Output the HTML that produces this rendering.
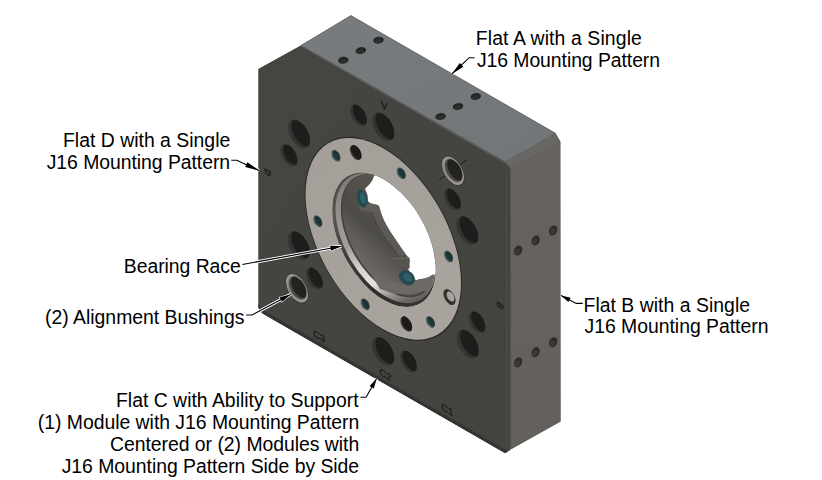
<!DOCTYPE html><html><head><meta charset="utf-8"><style>
html,body{margin:0;padding:0;background:#fff;width:822px;height:480px;overflow:hidden}
svg{display:block}
text{font-family:"Liberation Sans",sans-serif;font-size:19.4px;fill:#000}
</style></head><body>
<svg width="822" height="480" viewBox="0 0 822 480">
<defs>
<linearGradient id="gTop" x1="0" y1="0" x2="1" y2="1"><stop offset="0" stop-color="#797c7e"/><stop offset="1" stop-color="#737678"/></linearGradient>
<linearGradient id="gRight" x1="0" y1="0" x2="0" y2="1"><stop offset="0" stop-color="#66635e"/><stop offset="1" stop-color="#64615c"/></linearGradient>
<linearGradient id="gFront" x1="0" y1="0" x2="1" y2="1"><stop offset="0" stop-color="#454641"/><stop offset="1" stop-color="#434440"/></linearGradient>
<linearGradient id="gRing" x1="0" y1="0" x2="1" y2="1"><stop offset="0" stop-color="#a39f98"/><stop offset="1" stop-color="#aaa69f"/></linearGradient>
<linearGradient id="gRace" x1="0.05" y1="0.2" x2="0.75" y2="1"><stop offset="0" stop-color="#7a7772"/><stop offset="0.18" stop-color="#928f89"/><stop offset="0.45" stop-color="#a5a29c"/><stop offset="0.6" stop-color="#d5d2cc"/><stop offset="0.74" stop-color="#e6e3de"/><stop offset="0.84" stop-color="#a09d98"/><stop offset="0.93" stop-color="#6a6763"/><stop offset="1" stop-color="#5a5753"/></linearGradient>
<linearGradient id="gLipDark" x1="0.05" y1="0.2" x2="0.75" y2="1"><stop offset="0" stop-color="#4a4844"/><stop offset="0.2" stop-color="#5a5753"/><stop offset="0.5" stop-color="#403e3b"/><stop offset="0.8" stop-color="#2e2c2a"/><stop offset="1" stop-color="#3a3835"/></linearGradient>
<linearGradient id="gWall" x1="0.7" y1="0" x2="0.4" y2="1"><stop offset="0" stop-color="#5c5955"/><stop offset="0.3" stop-color="#55524e"/><stop offset="0.6" stop-color="#4d4b47"/><stop offset="0.8" stop-color="#605d59"/><stop offset="1" stop-color="#6e6b67"/></linearGradient>
<linearGradient id="gBush" x1="0" y1="0" x2="1" y2="1"><stop offset="0" stop-color="#a3a09a"/><stop offset="0.5" stop-color="#8a8781"/><stop offset="1" stop-color="#a8a59f"/></linearGradient>

<clipPath id="hc0"><circle cx="16.40" cy="30.78" r="4.40"/></clipPath>
<clipPath id="hc1"><circle cx="50.12" cy="11.84" r="4.40"/></clipPath>
<clipPath id="hc2"><circle cx="16.30" cy="69.16" r="4.40"/></clipPath>
<clipPath id="hc3"><circle cx="83.68" cy="30.96" r="4.40"/></clipPath>
<clipPath id="hc4"><circle cx="50.04" cy="88.94" r="4.40"/></clipPath>
<clipPath id="hc5"><circle cx="83.88" cy="69.84" r="4.40"/></clipPath>
<clipPath id="hc6"><circle cx="12.40" cy="40.06" r="3.35"/></clipPath>
<clipPath id="hc7"><circle cx="40.20" cy="12.72" r="3.35"/></clipPath>
<clipPath id="hc8"><circle cx="22.56" cy="77.35" r="3.35"/></clipPath>
<clipPath id="hc9"><circle cx="77.80" cy="23.13" r="3.35"/></clipPath>
<clipPath id="hc10"><circle cx="60.20" cy="87.46" r="3.35"/></clipPath>
<clipPath id="hc11"><circle cx="87.60" cy="60.53" r="3.35"/></clipPath>
<clipPath id="hc12"><circle cx="31.18" cy="30.99" r="1.60"/></clipPath>
<clipPath id="hc13"><circle cx="57.32" cy="24.23" r="1.60"/></clipPath>
<clipPath id="hc14"><circle cx="76.24" cy="43.49" r="1.60"/></clipPath>
<clipPath id="hc15"><circle cx="69.02" cy="69.51" r="1.60"/></clipPath>
<clipPath id="hc16"><circle cx="42.88" cy="76.27" r="1.60"/></clipPath>
<clipPath id="hc17"><circle cx="23.96" cy="57.01" r="1.60"/></clipPath>
<clipPath id="hc18"><circle cx="39.07" cy="26.05" r="2.35"/></clipPath>
<clipPath id="hc19"><circle cx="59.30" cy="74.99" r="2.35"/></clipPath>
<clipPath id="hc20"><circle cx="15.85" cy="83.92" r="3.45"/></clipPath>
<clipPath id="hc21"><circle cx="78.25" cy="12.97" r="3.45"/></clipPath>
</defs>
<polygon points="258.5,69 301,45.5 350.9,15.6 555.5,133.3 560.3,141.5 560.5,421.5 510.5,449.5 506.5,452.5 505,453 263.5,314 260.5,311.5 258.5,307.5" fill="#4a4a47"/>
<polygon points="301,45.5 350.9,15.6 555.5,133.3 505.5,162" fill="url(#gTop)" stroke="#65676a" stroke-width="0.8" stroke-linejoin="round"/>
<polygon points="505.5,162 555.5,133.3 560.3,141.5 510.5,169" fill="#696764"/>
<polygon points="510.5,169 560.3,141.5 560.5,421.5 510.5,449.5" fill="url(#gRight)"/>
<polygon points="258.5,69 301,45.5 505.5,162 506.5,165 506.5,452 505,453 263.5,314 260.5,311.5 258.5,307.5" fill="url(#gFront)"/>
<polygon points="505.5,162 510.5,169 510.5,449.5 506.5,452.5 506.5,165" fill="#4d4d48"/>
<line x1="508.7" y1="166" x2="508.7" y2="451" stroke="#3a3a37" stroke-width="0.9"/>
<polygon points="301,45.5 505.5,162 506.5,165 301.5,47.5" fill="#5b5b59"/>
<line x1="301.2" y1="47.4" x2="506" y2="164.6" stroke="#3f3f3d" stroke-width="0.8"/>
<line x1="439" y1="180" x2="467.5" y2="159.5" stroke="#5a5955" stroke-width="2.8"/><line x1="439" y1="180" x2="467.5" y2="159.5" stroke="#292826" stroke-width="1.9"/>
<g transform="matrix(2.5,1.428,0,2.912,258,20.94)">
<circle cx="50.1" cy="50.25" r="31.50" fill="#2a2927"/>
<circle cx="50.1" cy="50.25" r="31.10" fill="url(#gRing)"/>
<clipPath id="boreclip"><circle cx="50.38" cy="50.45" r="20.71"/></clipPath>
<g clip-path="url(#boreclip)">
<circle cx="50.38" cy="50.45" r="20.71" fill="url(#gLipDark)"/>
<circle cx="51.05" cy="49.57" r="20.04" fill="url(#gRace)"/>
<circle cx="52.11" cy="48.19" r="18.98" fill="#44423e"/>
<circle cx="52.44" cy="47.75" r="18.65" fill="url(#gWall)"/>
</g>
<circle cx="16.40" cy="30.78" r="4.40" fill="#353432"/><g clip-path="url(#hc0)"><circle cx="17.73" cy="29.50" r="4.40" fill="#1d1d1c" filter="url(#bl)"/></g>
<circle cx="50.12" cy="11.84" r="4.40" fill="#353432"/><g clip-path="url(#hc1)"><circle cx="51.45" cy="10.56" r="4.40" fill="#1d1d1c" filter="url(#bl)"/></g>
<circle cx="16.30" cy="69.16" r="4.40" fill="#353432"/><g clip-path="url(#hc2)"><circle cx="17.63" cy="67.87" r="4.40" fill="#1d1d1c" filter="url(#bl)"/></g>
<circle cx="83.68" cy="30.96" r="4.40" fill="#353432"/><g clip-path="url(#hc3)"><circle cx="85.01" cy="29.68" r="4.40" fill="#1d1d1c" filter="url(#bl)"/></g>
<circle cx="50.04" cy="88.94" r="4.40" fill="#353432"/><g clip-path="url(#hc4)"><circle cx="51.37" cy="87.66" r="4.40" fill="#1d1d1c" filter="url(#bl)"/></g>
<circle cx="83.88" cy="69.84" r="4.40" fill="#353432"/><g clip-path="url(#hc5)"><circle cx="85.21" cy="68.55" r="4.40" fill="#1d1d1c" filter="url(#bl)"/></g>
<circle cx="12.40" cy="40.06" r="3.35" fill="#353432"/><g clip-path="url(#hc6)"><circle cx="13.41" cy="39.08" r="3.35" fill="#1d1d1c" filter="url(#bl)"/></g>
<circle cx="40.20" cy="12.72" r="3.35" fill="#353432"/><g clip-path="url(#hc7)"><circle cx="41.21" cy="11.74" r="3.35" fill="#1d1d1c" filter="url(#bl)"/></g>
<circle cx="22.56" cy="77.35" r="3.35" fill="#353432"/><g clip-path="url(#hc8)"><circle cx="23.57" cy="76.37" r="3.35" fill="#1d1d1c" filter="url(#bl)"/></g>
<circle cx="77.80" cy="23.13" r="3.35" fill="#353432"/><g clip-path="url(#hc9)"><circle cx="78.81" cy="22.15" r="3.35" fill="#1d1d1c" filter="url(#bl)"/></g>
<circle cx="60.20" cy="87.46" r="3.35" fill="#353432"/><g clip-path="url(#hc10)"><circle cx="61.21" cy="86.48" r="3.35" fill="#1d1d1c" filter="url(#bl)"/></g>
<circle cx="87.60" cy="60.53" r="3.35" fill="#353432"/><g clip-path="url(#hc11)"><circle cx="88.61" cy="59.55" r="3.35" fill="#1d1d1c" filter="url(#bl)"/></g>
<circle cx="31.18" cy="30.99" r="1.80" fill="#4a4844"/><circle cx="31.18" cy="30.99" r="1.60" fill="#3f6064"/><g clip-path="url(#hc12)"><circle cx="31.58" cy="30.60" r="1.60" fill="#1e3538" filter="url(#bl)"/></g>
<circle cx="57.32" cy="24.23" r="1.80" fill="#4a4844"/><circle cx="57.32" cy="24.23" r="1.60" fill="#3f6064"/><g clip-path="url(#hc13)"><circle cx="57.72" cy="23.84" r="1.60" fill="#1e3538" filter="url(#bl)"/></g>
<circle cx="76.24" cy="43.49" r="1.80" fill="#4a4844"/><circle cx="76.24" cy="43.49" r="1.60" fill="#3f6064"/><g clip-path="url(#hc14)"><circle cx="76.64" cy="43.10" r="1.60" fill="#1e3538" filter="url(#bl)"/></g>
<circle cx="69.02" cy="69.51" r="1.80" fill="#4a4844"/><circle cx="69.02" cy="69.51" r="1.60" fill="#3f6064"/><g clip-path="url(#hc15)"><circle cx="69.43" cy="69.12" r="1.60" fill="#1e3538" filter="url(#bl)"/></g>
<circle cx="42.88" cy="76.27" r="1.80" fill="#4a4844"/><circle cx="42.88" cy="76.27" r="1.60" fill="#3f6064"/><g clip-path="url(#hc16)"><circle cx="43.29" cy="75.88" r="1.60" fill="#1e3538" filter="url(#bl)"/></g>
<circle cx="23.96" cy="57.01" r="1.80" fill="#4a4844"/><circle cx="23.96" cy="57.01" r="1.60" fill="#3f6064"/><g clip-path="url(#hc17)"><circle cx="24.36" cy="56.62" r="1.60" fill="#1e3538" filter="url(#bl)"/></g>
<circle cx="39.07" cy="26.05" r="2.35" fill="#3e3c39"/><g clip-path="url(#hc18)"><circle cx="39.57" cy="25.55" r="2.35" fill="#1c1b1a" filter="url(#bl)"/></g>
<circle cx="59.30" cy="74.99" r="2.35" fill="#3e3c39"/><g clip-path="url(#hc19)"><circle cx="59.81" cy="74.50" r="2.35" fill="#1c1b1a" filter="url(#bl)"/></g>
<circle cx="76.59" cy="57.25" r="2.45" fill="#33312e" filter="url(#bl)"/>
<circle cx="77.02" cy="56.83" r="1.55" fill="#a6a39d" filter="url(#bl)"/>
<circle cx="15.60" cy="84.16" r="4.7" fill="#3a3936"/>
<circle cx="15.60" cy="84.16" r="4.4" fill="url(#gBush)"/>
<circle cx="15.85" cy="83.92" r="3.65" fill="#6d6a66"/><circle cx="15.85" cy="83.92" r="3.45" fill="#4a4845"/><g clip-path="url(#hc20)"><circle cx="16.72" cy="83.08" r="3.45" fill="#232221" filter="url(#bl)"/></g>
<circle cx="78.00" cy="13.21" r="4.7" fill="#3a3936"/>
<circle cx="78.00" cy="13.21" r="4.4" fill="url(#gBush)"/>
<circle cx="78.25" cy="12.97" r="3.65" fill="#6d6a66"/><circle cx="78.25" cy="12.97" r="3.45" fill="#4a4845"/><g clip-path="url(#hc21)"><circle cx="79.12" cy="12.13" r="3.45" fill="#232221" filter="url(#bl)"/></g>
</g>
<path d="M374.4,175.2 L376.8,176.1 L379.1,177.1 L381.5,178.3 L383.9,179.6 L386.3,181.0 L388.6,182.5 L391.0,184.2 L393.3,186.0 L395.6,187.9 L397.9,189.9 L400.2,192.0 L402.5,194.2 L404.6,196.5 L406.8,198.9 L408.9,201.4 L411.0,203.9 L412.9,206.6 L414.9,209.3 L416.7,212.0 L418.5,214.9 L420.3,217.8 L421.9,220.7 L423.5,223.7 L425.0,226.7 L426.4,229.7 L427.7,232.8 L428.9,235.8 L430.0,238.9 L431.0,242.0 L432.0,245.0 L432.8,248.1 L433.5,251.2 L434.1,254.2 L434.6,257.2 L435.0,260.1 L435.3,263.0 L435.5,265.9 L435.6,268.7 L435.6,271.4 L435.4,274.1 L431.5,276.5 L428.7,277.1 L424.7,278.5 L419.3,279.2 L415.9,280.5 L414.5,278.5 L411.1,273.7 L408.4,269.7 L409.1,265.6 L409.8,260.2 L408.8,258.0 L405.5,254.0 L402.3,249.5 L398.6,244.0 L394.5,238.0 L390.3,231.8 L386.6,225.5 L383.3,219.0 L380.8,212.5 L379.6,208.0 L378.3,205.2 L377.5,205.0 L370.0,203.1 L368.1,201.2 L367.5,195.0 L365.0,188.8 L367.5,186.2 L370.0,183.8 L372.5,180.0 Z" fill="#ffffff"/>
<path d="M372,212 C375,222 381,233 389,243 C394,249 397,254 400,258 L405.5,254 L402.3,249.5 L398.6,244 L394.5,238 L390.3,231.8 L386.6,225.5 L383.3,219 L380.8,212.5 L379.6,208 L378.3,205.2 Z" fill="#5d5a56"/>
<path d="M372,212 C375,222 381,233 389,243 C394,249 397,254 400,258" fill="none" stroke="#45433f" stroke-width="1"/>
<path d="M358,205 L371.7,204.5 L376.7,205.2 L378.6,207.3 L379.5,212 L372,212.5 L360,210 Z" fill="#5f5c58"/>
<path d="M360,205 L377,205.2" stroke="#6e6b66" stroke-width="1"/>
<path d="M392,259 L409.1,257.5 L409.8,260.2 L409.3,262.3 L409.8,268 L396,269 Z" fill="#575450"/>
<path d="M392,259 L409.1,257.5" stroke="#6e6b66" stroke-width="1"/>
<path d="M372,276 L388,281 L400,284 L411,283 L415.9,280.5 L419.3,279.2 L424.7,278.5 L428.7,277.1 L433.5,274 L433,282 L428,290 L412,294 L395,294 L380,289 Z" fill="#6d6a66"/>
<ellipse cx="362" cy="198.5" rx="5" ry="9.2" transform="rotate(-12 362 198.5)" fill="#244a50"/>
<ellipse cx="363" cy="198" rx="2.8" ry="6" transform="rotate(-12 362 198.5)" fill="#2f5f67"/>
<ellipse cx="407" cy="277.8" rx="8.6" ry="6.8" transform="rotate(40 407 277.8)" fill="#244a50"/>
<ellipse cx="407.5" cy="277" rx="5" ry="3.5" transform="rotate(40 407 277.8)" fill="#2f5f67"/>
<ellipse cx="343.3" cy="60.2" rx="5.9" ry="3.9" transform="rotate(-10 343.3 60.2)" fill="#787a7a"/>
<ellipse cx="343.3" cy="60.2" rx="5.3" ry="3.4" transform="rotate(-10 343.3 60.2)" fill="#232424"/>
<ellipse cx="342.8" cy="61.0" rx="3.6" ry="2" transform="rotate(-10 343.3 60.2)" fill="#2e2f2f"/>
<ellipse cx="360.8" cy="50.6" rx="5.9" ry="3.9" transform="rotate(-10 360.8 50.6)" fill="#787a7a"/>
<ellipse cx="360.8" cy="50.6" rx="5.3" ry="3.4" transform="rotate(-10 360.8 50.6)" fill="#232424"/>
<ellipse cx="360.3" cy="51.4" rx="3.6" ry="2" transform="rotate(-10 360.8 50.6)" fill="#2e2f2f"/>
<ellipse cx="378.5" cy="40.2" rx="5.9" ry="3.9" transform="rotate(-10 378.5 40.2)" fill="#787a7a"/>
<ellipse cx="378.5" cy="40.2" rx="5.3" ry="3.4" transform="rotate(-10 378.5 40.2)" fill="#232424"/>
<ellipse cx="378.0" cy="41.0" rx="3.6" ry="2" transform="rotate(-10 378.5 40.2)" fill="#2e2f2f"/>
<ellipse cx="440.6" cy="116.5" rx="5.9" ry="3.9" transform="rotate(-10 440.6 116.5)" fill="#787a7a"/>
<ellipse cx="440.6" cy="116.5" rx="5.3" ry="3.4" transform="rotate(-10 440.6 116.5)" fill="#232424"/>
<ellipse cx="440.1" cy="117.3" rx="3.6" ry="2" transform="rotate(-10 440.6 116.5)" fill="#2e2f2f"/>
<ellipse cx="458.1" cy="106.5" rx="5.9" ry="3.9" transform="rotate(-10 458.1 106.5)" fill="#787a7a"/>
<ellipse cx="458.1" cy="106.5" rx="5.3" ry="3.4" transform="rotate(-10 458.1 106.5)" fill="#232424"/>
<ellipse cx="457.6" cy="107.3" rx="3.6" ry="2" transform="rotate(-10 458.1 106.5)" fill="#2e2f2f"/>
<ellipse cx="475.8" cy="96.5" rx="5.9" ry="3.9" transform="rotate(-10 475.8 96.5)" fill="#787a7a"/>
<ellipse cx="475.8" cy="96.5" rx="5.3" ry="3.4" transform="rotate(-10 475.8 96.5)" fill="#232424"/>
<ellipse cx="475.3" cy="97.3" rx="3.6" ry="2" transform="rotate(-10 475.8 96.5)" fill="#2e2f2f"/>
<ellipse cx="518.1" cy="250.5" rx="4.5" ry="5.9" transform="rotate(25 518.1 250.5)" fill="#666460"/>
<ellipse cx="518.1" cy="250.5" rx="3.9" ry="5.3" transform="rotate(25 518.1 250.5)" fill="#2c2b29"/>
<ellipse cx="517.8000000000001" cy="251.7" rx="2.4" ry="3.4" transform="rotate(25 518.1 250.5)" fill="#3a3936"/>
<ellipse cx="535.6" cy="240.5" rx="4.5" ry="5.9" transform="rotate(25 535.6 240.5)" fill="#666460"/>
<ellipse cx="535.6" cy="240.5" rx="3.9" ry="5.3" transform="rotate(25 535.6 240.5)" fill="#2c2b29"/>
<ellipse cx="535.3000000000001" cy="241.7" rx="2.4" ry="3.4" transform="rotate(25 535.6 240.5)" fill="#3a3936"/>
<ellipse cx="553.1" cy="230.5" rx="4.5" ry="5.9" transform="rotate(25 553.1 230.5)" fill="#666460"/>
<ellipse cx="553.1" cy="230.5" rx="3.9" ry="5.3" transform="rotate(25 553.1 230.5)" fill="#2c2b29"/>
<ellipse cx="552.8000000000001" cy="231.7" rx="2.4" ry="3.4" transform="rotate(25 553.1 230.5)" fill="#3a3936"/>
<ellipse cx="518.1" cy="362.3" rx="4.5" ry="5.9" transform="rotate(25 518.1 362.3)" fill="#666460"/>
<ellipse cx="518.1" cy="362.3" rx="3.9" ry="5.3" transform="rotate(25 518.1 362.3)" fill="#2c2b29"/>
<ellipse cx="517.8000000000001" cy="363.5" rx="2.4" ry="3.4" transform="rotate(25 518.1 362.3)" fill="#3a3936"/>
<ellipse cx="535.6" cy="352.2" rx="4.5" ry="5.9" transform="rotate(25 535.6 352.2)" fill="#666460"/>
<ellipse cx="535.6" cy="352.2" rx="3.9" ry="5.3" transform="rotate(25 535.6 352.2)" fill="#2c2b29"/>
<ellipse cx="535.3000000000001" cy="353.4" rx="2.4" ry="3.4" transform="rotate(25 535.6 352.2)" fill="#3a3936"/>
<ellipse cx="553.1" cy="342.3" rx="4.5" ry="5.9" transform="rotate(25 553.1 342.3)" fill="#666460"/>
<ellipse cx="553.1" cy="342.3" rx="3.9" ry="5.3" transform="rotate(25 553.1 342.3)" fill="#2c2b29"/>
<ellipse cx="552.8000000000001" cy="343.5" rx="2.4" ry="3.4" transform="rotate(25 553.1 342.3)" fill="#3a3936"/>
<path d="M381,100.6 L384.4,109 L387.2,103.2" fill="none" stroke="#242422" stroke-width="1.8" stroke-linejoin="round"/>
<text x="0" y="0" style="font-size:9.5px;fill:#222120;stroke:#222120;stroke-width:0.5px" transform="translate(313,336) matrix(1,0.566,0,1,0,0) rotate(0)">C3</text>
<text x="0" y="0" style="font-size:9.5px;fill:#222120;stroke:#222120;stroke-width:0.5px" transform="translate(379.2,374.5) matrix(1,0.566,0,1,0,0) rotate(0)">C2</text>
<text x="0" y="0" style="font-size:9.5px;fill:#222120;stroke:#222120;stroke-width:0.5px" transform="translate(441.2,409.5) matrix(1,0.566,0,1,0,0) rotate(0)">C1</text>
<text x="0" y="0" style="font-size:9px;fill:#222120;stroke:#222120;stroke-width:0.5px" transform="translate(497,301) matrix(1,0.566,0,1,0,0) rotate(90)">B</text>
<text x="0" y="0" style="font-size:8px;fill:#222120;stroke:#222120;stroke-width:0.9px" transform="translate(265,168) matrix(1,0.566,0,1,0,0) rotate(90)">D</text>
<polygon points="258.5,307.5 260.5,311.5 263.5,314 505,453 507,451.5 507,448 505,449.5 264,310.5 261.5,308.5 258.5,304" fill="#353432"/>
<path d="M474.6,57.7 L469.2,57.7 L452.1,73.75" fill="none" stroke="#fff" stroke-width="3"/><path d="M452.1,73.75 L459.80,62.96 L463.36,66.75 Z" fill="#000" stroke="#fff" stroke-width="1.2"/><path d="M474.6,57.7 L469.2,57.7 L452.1,73.75" fill="none" stroke="#000" stroke-width="1.1"/><path d="M452.1,73.75 L459.80,62.96 L463.36,66.75 Z" fill="#000"/>
<path d="M231.3,160.2 L236.8,160.2 L259,170.4" fill="none" stroke="#fff" stroke-width="3"/><path d="M259,170.4 L245.19,166.92 L247.36,162.19 Z" fill="#000" stroke="#fff" stroke-width="1.2"/><path d="M231.3,160.2 L236.8,160.2 L259,170.4" fill="none" stroke="#000" stroke-width="1.1"/><path d="M259,170.4 L245.19,166.92 L247.36,162.19 Z" fill="#000"/>
<path d="M242.4,264.5 L341.4,246.3" fill="none" stroke="#fff" stroke-width="3"/><path d="M341.4,246.3 L331.05,250.85 L330.11,245.73 Z" fill="#000" stroke="#fff" stroke-width="1.2"/><path d="M242.4,264.5 L341.4,246.3" fill="none" stroke="#000" stroke-width="1.1"/><path d="M341.4,246.3 L331.05,250.85 L330.11,245.73 Z" fill="#000"/>
<path d="M246.25,315 L252,315 L290.6,294.4" fill="none" stroke="#fff" stroke-width="3"/><path d="M290.6,294.4 L282.12,301.87 L279.67,297.29 Z" fill="#000" stroke="#fff" stroke-width="1.2"/><path d="M246.25,315 L252,315 L290.6,294.4" fill="none" stroke="#000" stroke-width="1.1"/><path d="M290.6,294.4 L282.12,301.87 L279.67,297.29 Z" fill="#000"/>
<path d="M582.8,303.4 L576.25,303.4 L561,295.6" fill="none" stroke="#fff" stroke-width="3"/><path d="M561,295.6 L570.55,297.79 L568.36,302.06 Z" fill="#000" stroke="#fff" stroke-width="1.2"/><path d="M582.8,303.4 L576.25,303.4 L561,295.6" fill="none" stroke="#000" stroke-width="1.1"/><path d="M561,295.6 L570.55,297.79 L568.36,302.06 Z" fill="#000"/>
<path d="M360.4,397.3 L366.1,397.3 L376.6,378.5" fill="none" stroke="#fff" stroke-width="3"/><path d="M376.6,378.5 L373.82,388.40 L369.63,386.06 Z" fill="#000" stroke="#fff" stroke-width="1.2"/><path d="M360.4,397.3 L366.1,397.3 L376.6,378.5" fill="none" stroke="#000" stroke-width="1.1"/><path d="M376.6,378.5 L373.82,388.40 L369.63,386.06 Z" fill="#000"/>
<text x="475.81" y="44.7" textLength="166.05" lengthAdjust="spacing">Flat A with a Single</text>
<text x="476.90" y="66.7" textLength="183.16" lengthAdjust="spacing">J16 Mounting Pattern</text>
<text x="63.01" y="146.8" textLength="167.25" lengthAdjust="spacing">Flat D with a Single</text>
<text x="46.70" y="169.0" textLength="183.46" lengthAdjust="spacing">J16 Mounting Pattern</text>
<text x="123.81" y="272.7" textLength="116.95" lengthAdjust="spacing">Bearing Race</text>
<text x="45.00" y="324.2" textLength="199.40" lengthAdjust="spacing">(2) Alignment Bushings</text>
<text x="583.51" y="311.9" textLength="166.55" lengthAdjust="spacing">Flat B with a Single</text>
<text x="584.50" y="333.3" textLength="183.96" lengthAdjust="spacing">J16 Mounting Pattern</text>
<text x="116.01" y="407.0" textLength="242.53" lengthAdjust="spacing">Flat C with Ability to Support</text>
<text x="37.80" y="429.2" textLength="321.46" lengthAdjust="spacing">(1) Module with J16 Mounting Pattern</text>
<text x="109.91" y="451.2" textLength="249.35" lengthAdjust="spacing">Centered or (2) Modules with</text>
<text x="61.70" y="472.7" textLength="297.47" lengthAdjust="spacing">J16 Mounting Pattern Side by Side</text>
</svg></body></html>
